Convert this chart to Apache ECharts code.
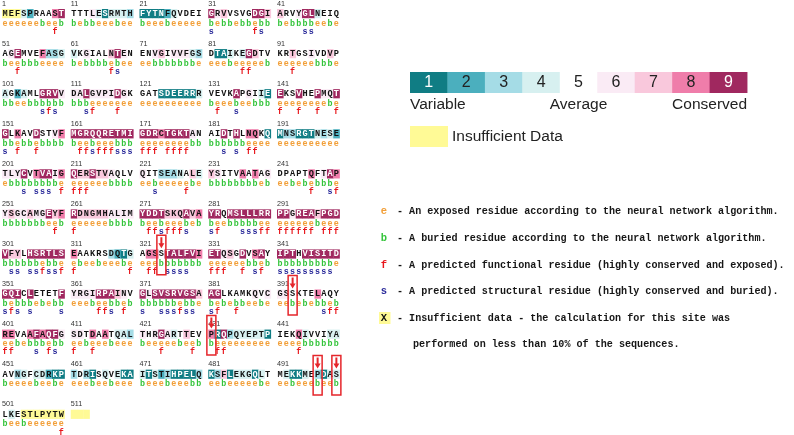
<!DOCTYPE html>
<html><head><meta charset="utf-8">
<script src="https://cdn.jsdelivr.net/npm/echarts@6/dist/echarts.min.js"></script>
<style>html,body{margin:0;padding:0;background:#fff}#c{width:794px;height:435px}</style>
</head><body><div id="c"></div>
<script>
// one string per block of 10 residues (block k starts at residue k*10+1)
const residues = [
 "MEFSPRAAST","TTTLESRMTH","FYTNFQVDEI","GRVVSVGDGI","ARVYGLNEIQ",
 "AGEMVEFASG","VKGIALNTEN","ENVGIVVFGS","DTAIKEGDTV","KRTGSIVDVP",
 "AGKAMLGRVV","DALGVPIDGK","GATSDEERRR","VEVKAPGIIE","EKSVHEPMQT",
 "GLKAVDSTVF","MGRQQRETMI","GDRCTGKTAN","AIDTHLNQKQ","MNSRGTNESE",
 "TLYCVTVAIG","QERSTVAQLV","QITSEANALE","YSITVAATAG","DPAPTQFTAP",
 "YSGCAMGEYF","RDNGMHALIM","YDDTSKQAVA","YRQMSLLLRR","PPGREAFPGD",
 "VFYLHSRTLS","EAAKRSDQTG","AGSSTALFVI","ETQSGDVSAY","IPTHVISITD",
 "GQICLETETF","YRGIRPAINV","GLSVSRVGSA","AGLKAMKQVC","GSSKTELAQY",
 "REVAAFAQFG","SDTDAATQAL","THRGARTTEV","PRQPQYEPTP","IEKQIVVIYA",
 "AVNGFCDRKP","TDRISQVEKA","ITSTIHPELQ","KSFLEKGQLT","MEKKMEPDAS",
 "LKESTLPYTW","   "
];
// conservation grade per residue (1..9, x = insufficient data)
const grades = [
 "xxx4255589","5556414443","1111245555","9675555997","7556994555",
 "5695558334","4565557965","5567566643","5114549755","5575565575",
 "4524559996","6696666965","5551111114","5555956541","9559559669",
 "9585595568","9999999999","9998999965","5595958851","1331114342",
 "6669589968","9779776555","6553334574","7655585856","5555585698",
 "6766766978","9777776666","9999777978","9959999999","9969997999",
 "9775999999","8555553214","5885999998","9967595895","9995999999",
 "9995955559","6666999765","9699999997","9955555656","6655558555",
 "8855898996","6658585443","6569645755","8193444441","5558455544",
 "5534544211","3531545411","4142311113","1371444145","5411453144",
 "545xxxxxxx","xxx"
];
// e = exposed, b = buried
const exposure = [
 "eeeeeebeeb","bebbeeebee","beeebeeeee","bebbebbebb","bebbbbeebe",
 "beebbbeeee","bebbbbebee","eebbbbbbbe","eeebeeeeeb","eeeeeebbbe",
 "bbeebbbbbb","bbbeeeeeee","eeeeeeeeee","beeebeebbb","eeeeeeeebe",
 "bbebbebbbb","beebeeebbb","eeeeeeeebb","bbbbbbeeee","eeeeeeeeee",
 "ebbbbbbbbe","eeeeeebbbb","eebeeeeebe","bbbbbbbbeb","eebebebbbe",
 "bbbbbbbeeb","eeeeeebbbb","beebeeebeb","beebbbbbee","eeeeeebeee",
 "bbbbbbebbe","ebeebeeebe","eeebbbbbbb","eeeeeebbeb","bbbbbbbbbe",
 "bebbbebebb","eeebeebbeb","bbbbbbebbe","bebebbeebe","eebebebbeb",
 "eebebbbebb","eebeeebeee","beeeeebeeb","beeeeeeeee","eeeebbbbbb",
 "beeeebeebe","eeebeebeee","beeebeeebb","eebeeeeebe","eebeeebeeb",
 "beebeeeeee","   "
];
// f = predicted functional, s = predicted structural
const roles = [
 "        f ","          ","          ","s      fs ","    ss    ",
 "  f       ","      fs  ","          ","     ff   ","  f       ",
 "      sfs ","  sf   f  ","          "," f  s     ","f  f  f  f",
 "s f  f    "," ffsfffsss","fff ffff  ","  s s ff  ","          ",
 "   s sss f","fff       ","  s    f  ","          ","     f  sf",
 "        f ","f         "," ffsfffs  ","sf   sssff","ffffff fff",
 " ss ssfssf","f        f"," ff ssss  ","fff  f sf ","sssssssss ",
 "sfs s    s","    ffs f ","s  sssfss ","sf  f     ","       sff",
 "ff   s fs ","f  f      ","   f    f "," ff       ","   f      ",
 "          ","          ","          ","          ","          ",
 "         f","   "
];
const markedSites = [324, 393, 431, 497, 500];

const gradeColors = {"1":"#107D84","2":"#4BAFBE","3":"#A5DCE6","4":"#D7F0F0","5":"#FFFFFF",
  "6":"#FAEBF5","7":"#F9C8DC","8":"#EF7DAA","9":"#A0285F","x":"#FFFA96"};
const scaleGrades = ["1","2","3","4","5","6","7","8","9"];
const scaleLabels = ["Variable","Average","Conserved"];
const insufficientLabel = "Insufficient Data";
const keyItems = [
 ["e","#F2A03A","- An exposed residue according to the neural network algorithm."],
 ["b","#33C43A","- A buried residue according to the neural network algorithm."],
 ["f","#E8151B","- A predicted functional residue (highly conserved and exposed)."],
 ["s","#2A2A9A","- A predicted structural residue (highly conserved and buried)."],
 ["X","#111111","- Insufficient data - the calculation for this site was"]
];
const keyContinuation = "performed on less than 10% of the sequences.";

const BLOCKS_PER_ROW = 5, COLS_PER_BLOCK = 11;
const cells = [];
residues.forEach((seq, k) => {
  const row = Math.floor(k / BLOCKS_PER_ROW), b = k % BLOCKS_PER_ROW;
  for (let i = 0; i < seq.length; i++) {
    cells.push({ v: [b * COLS_PER_BLOCK + i, row], ch: seq[i], g: grades[k][i], e: exposure[k][i], r: roles[k][i] });
  }
});
const blockStarts = residues.map((s, k) => ({ v: [(k % BLOCKS_PER_ROW) * COLS_PER_BLOCK, Math.floor(k / BLOCKS_PER_ROW)], n: k * 10 + 1 }));
const marks = markedSites.map(n => { const k = Math.floor((n - 1) / 10), i = (n - 1) % 10;
  return [(k % BLOCKS_PER_ROW) * COLS_PER_BLOCK + i, Math.floor(k / BLOCKS_PER_ROW)]; });

const MONO = '"Liberation Mono", "DejaVu Sans Mono", monospace';
function txt(x, y, text, font, fill, align) {
  return { type: 'text', x: x, y: y, style: { text: text, font: font, fill: fill,
    align: align || 'center', verticalAlign: 'middle', textAlign: align || 'center', textVerticalAlign: 'middle' } };
}

const chart = echarts.init(document.getElementById('c'), null, { renderer: 'canvas' });
const graphic = [];
const x0 = 410, bw = 37.45;
scaleGrades.forEach((g, i) => {
  graphic.push({ type: 'rect', shape: { x: x0 + i * bw, y: 72, width: bw + 0.4, height: 21 }, style: { fill: gradeColors[g] } });
  graphic.push(txt(x0 + i * bw + bw / 2, 83, g, '16px "Liberation Sans", Arial, sans-serif', (g === '1' || g === '9') ? '#ffffff' : '#222222'));
});
graphic.push(txt(x0, 104.5, scaleLabels[0], '15.5px "Liberation Sans", Arial, sans-serif', '#222', 'left'));
graphic.push(txt(x0 + 4.5 * bw, 104.5, scaleLabels[1], '15.5px "Liberation Sans", Arial, sans-serif', '#222', 'center'));
graphic.push(txt(x0 + 9 * bw, 104.5, scaleLabels[2], '15.5px "Liberation Sans", Arial, sans-serif', '#222', 'right'));
graphic.push({ type: 'rect', shape: { x: 410, y: 126, width: 38, height: 21 }, style: { fill: gradeColors.x } });
graphic.push(txt(452, 137, insufficientLabel, '15.5px "Liberation Sans", Arial, sans-serif', '#222', 'left'));
const keyY = [211, 238, 265, 291.5, 318];
keyItems.forEach((it, i) => {
  if (it[0] === 'X') graphic.push({ type: 'rect', shape: { x: 379, y: keyY[i] - 6, width: 11.5, height: 12 }, style: { fill: gradeColors.x } });
  graphic.push(txt(384, keyY[i], it[0], 'bold 10.5px ' + MONO, it[1], 'center'));
  graphic.push(txt(397, keyY[i], it[2], 'bold 10.1px ' + MONO, '#161616', 'left'));
});
graphic.push(txt(413, 344, keyContinuation, 'bold 10.1px ' + MONO, '#161616', 'left'));

chart.setOption({
  animation: false,
  backgroundColor: '#ffffff',
  grid: { left: 2, top: 3.4, width: 337.5, height: 400.7 },
  xAxis: { type: 'value', min: 0, max: 54, show: false },
  yAxis: { type: 'value', min: 0, max: 10, inverse: true, show: false },
  graphic: graphic,
  series: [
    { type: 'custom', data: cells.map(c => c.v), clip: false,
      renderItem: function (params, api) {
        const c = cells[params.dataIndex];
        const p = api.coord([api.value(0), api.value(1)]);
        const w = api.size([1, 0])[0];
        const cx = p[0] + w / 2;
        const ch = [];
        if (c.g !== '5') ch.push({ type: 'rect', shape: { x: p[0], y: p[1] + 5.6, width: w + 0.35, height: 9.2 }, style: { fill: gradeColors[c.g] } });
        if (c.ch.trim()) ch.push(txt(cx, p[1] + 10.4, c.ch, 'bold 8.6px ' + MONO, (c.g === '1' || c.g === '9') ? '#ffffff' : '#111111'));
        if (c.e === 'e') ch.push(txt(cx, p[1] + 20, 'e', 'bold 8.4px ' + MONO, keyItems[0][1]));
        if (c.e === 'b') ch.push(txt(cx, p[1] + 20, 'b', 'bold 8.4px ' + MONO, keyItems[1][1]));
        if (c.r === 'f') ch.push(txt(cx, p[1] + 28.3, 'f', 'bold 8.4px ' + MONO, keyItems[2][1]));
        if (c.r === 's') ch.push(txt(cx, p[1] + 28.3, 's', 'bold 8.4px ' + MONO, keyItems[3][1]));
        return { type: 'group', children: ch };
      } },
    { type: 'custom', data: blockStarts.map(b => b.v), clip: false,
      renderItem: function (params, api) {
        const p = api.coord([api.value(0), api.value(1)]);
        return txt(p[0], p[1] + 0.3, String(blockStarts[params.dataIndex].n), '7.2px "Liberation Sans", Arial, sans-serif', '#333333', 'left');
      } },
    { type: 'custom', data: marks, clip: false, z: 5,
      renderItem: function (params, api) {
        const p = api.coord([api.value(0), api.value(1)]);
        const w = api.size([1, 0])[0];
        const cx = p[0] + w / 2, top = p[1] - 8.5;
        return { type: 'group', children: [
          { type: 'rect', shape: { x: cx - 4.5, y: top, width: 9, height: 39.5 }, style: { fill: 'none', stroke: '#E5262B', lineWidth: 1.5 } },
          { type: 'polygon', shape: { points: [[cx - 1, top + 2], [cx + 1, top + 2], [cx + 1, top + 8], [cx + 3, top + 8], [cx, top + 13], [cx - 3, top + 8], [cx - 1, top + 8]] }, style: { fill: '#E5262B' } }
        ] };
      } }
  ]
});
</script></body></html>
